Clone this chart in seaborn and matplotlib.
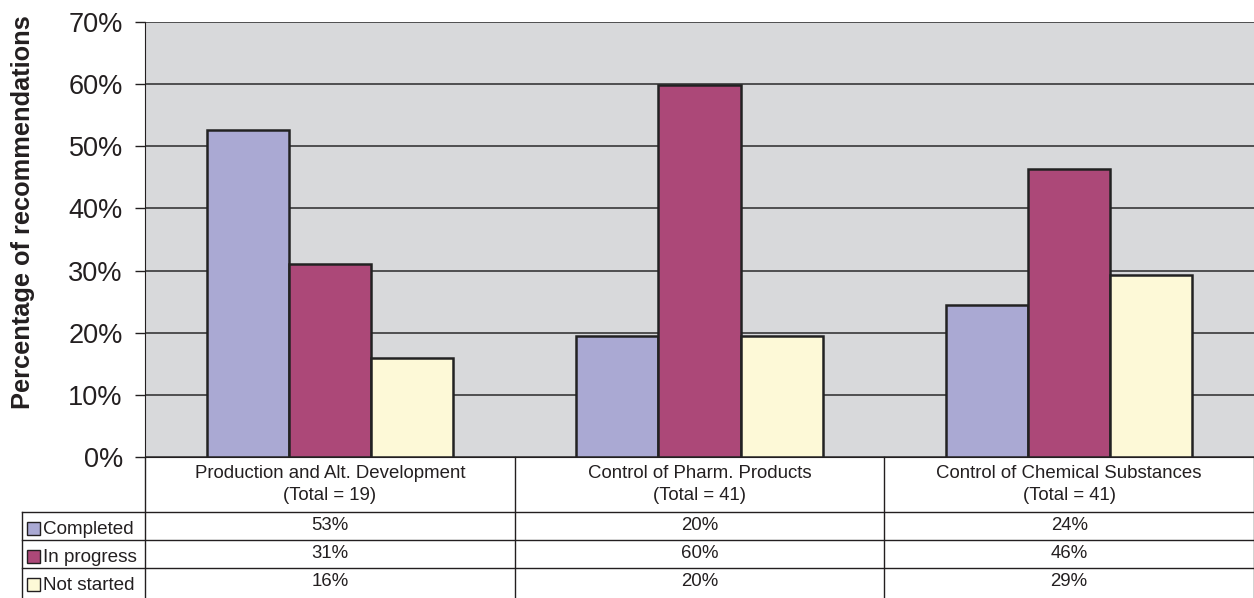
import matplotlib
matplotlib.use("Agg")
import matplotlib.pyplot as plt
from matplotlib.patches import Rectangle
from matplotlib.lines import Line2D
import pandas as pd
import seaborn as sns

categories = ["Production and Alt. Development", "Control of Pharm. Products",
              "Control of Chemical Substances"]
totals = [19, 41, 41]
statuses = ["Completed", "In progress", "Not started"]
completed = [52.6, 19.5, 24.4]
in_progress = [31.0, 59.9, 46.3]
not_started = [15.9, 19.5, 29.3]
completed_lbl = ["53%", "20%", "24%"]
in_progress_lbl = ["31%", "60%", "46%"]
not_started_lbl = ["16%", "20%", "29%"]
colors = ["#aaa9d3", "#ac4878", "#fdf9d7"]

df = pd.DataFrame({
    "category": categories * 3,
    "status": [s for s in statuses for _ in categories],
    "value": completed + in_progress + not_started,
})

plt.rcParams["font.family"] = ["Liberation Sans", "DejaVu Sans"]

W, H = 1254, 598
fig = plt.figure(figsize=(W / 100, H / 100), dpi=100)
ax_l, ax_r, ax_t, ax_b = 145, 1254, 22, 457
ax = fig.add_axes([ax_l / W, 1 - ax_b / H, (ax_r - ax_l) / W, (ax_b - ax_t) / H])
ax.set_facecolor("#d8d9db")

sns.barplot(data=df, x="category", y="value", hue="status", palette=colors,
            saturation=1, width=0.667, edgecolor="#222222", linewidth=1.8,
            legend=False, ax=ax, zorder=3)

ax.set_ylim(0, 70)
ax.set_xlim(-0.5, 2.5)
ax.set_yticks(range(0, 71, 10))
ax.set_yticklabels([f"{v}%" for v in range(0, 71, 10)], fontsize=19.5, color="#231f20")
ax.tick_params(axis="y", direction="out", length=7, width=1, pad=9, color="#231f20")
ax.set_xticks([])
ax.set_xlabel("")
ax.grid(axis="y", color="#2a2a2a", linewidth=1.1, zorder=1)
ax.set_axisbelow(True)
for s in ["top", "right"]:
    ax.spines[s].set_visible(False)
ax.spines["left"].set_color("#231f20")
ax.spines["bottom"].set_color("#231f20")

ax.set_ylabel("Percentage of recommendations", fontsize=18.3, fontweight="bold",
              color="#231f20")
ax.yaxis.set_label_coords((35 - ax_l) / (ax_r - ax_l), (ax_b - 212) / (ax_b - ax_t))


def ay(py):
    return (ax_b - py) / (ax_b - ax_t)


def axx(px):
    return (px - ax_l) / (ax_r - ax_l)


xt = ax.get_xaxis_transform()
line_kw = dict(color="#231f20", linewidth=1, clip_on=False)
fs = 13.4

# table grid
for xv in [-0.5, 0.5, 1.5, 2.5]:
    ax.add_line(Line2D([xv, xv], [0, ay(600)], transform=xt, **line_kw))
for py in [512, 540, 568]:
    ax.add_line(Line2D([axx(22), 1], [ay(py), ay(py)], transform=ax.transAxes, **line_kw))
ax.add_line(Line2D([axx(22), axx(22)], [ay(512), ay(600)], transform=ax.transAxes, **line_kw))

# header cells
for i, (cat, tot) in enumerate(zip(categories, totals)):
    ax.text(i, ay(474), cat, transform=xt, ha="center", va="center",
            fontsize=fs, color="#231f20")
    ax.text(i, ay(496), f"(Total = {tot})", transform=xt, ha="center",
            va="center", fontsize=fs, color="#231f20")

# data rows with legend keys
row_labels = [completed_lbl, in_progress_lbl, not_started_lbl]
row_centers = [525, 553, 581]
for status, col, labels, py in zip(statuses, colors, row_labels, row_centers):
    ax.add_patch(Rectangle((axx(27), ay(py + 10)), 13 / (ax_r - ax_l), 13 / (ax_b - ax_t),
                           transform=ax.transAxes, facecolor=col,
                           edgecolor="#231f20", linewidth=1, clip_on=False))
    ax.text(axx(43), ay(py + 4), status, transform=ax.transAxes, ha="left",
            va="center", fontsize=13.6, color="#231f20")
    for i, lab in enumerate(labels):
        ax.text(i, ay(py), lab, transform=xt, ha="center", va="center",
                fontsize=fs, color="#231f20")

fig.savefig("out.png", dpi=100, facecolor="white")
